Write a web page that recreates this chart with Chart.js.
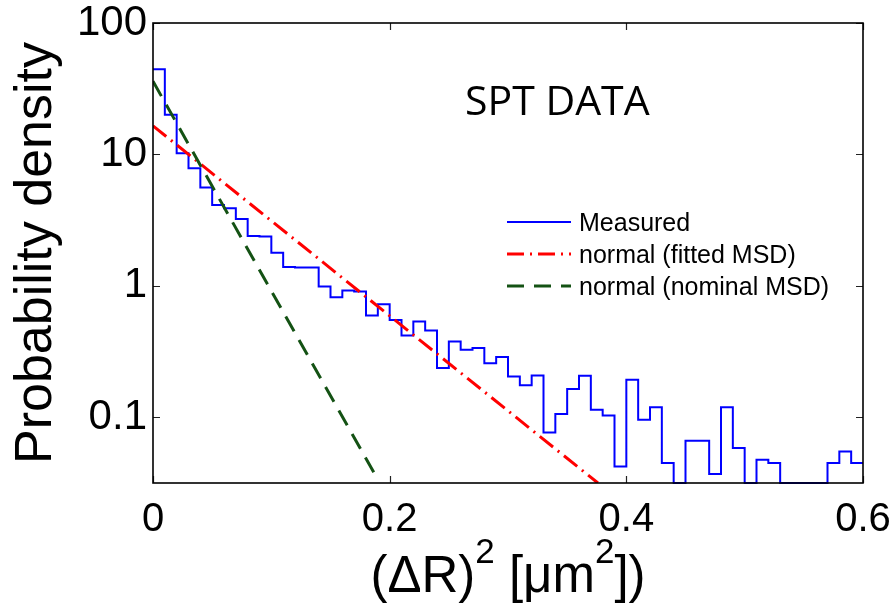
<!DOCTYPE html>
<html><head><meta charset="utf-8">
<script src="https://cdn.jsdelivr.net/npm/chart.js@4/dist/chart.umd.min.js"></script>
<style>html,body{margin:0;padding:0;background:#fff;}#wrap{width:895px;height:603px;}</style>
</head><body><div id="wrap"><canvas id="c" width="895" height="603"></canvas></div>
<script>
// ---- data ----
const binLeftEdges = [0.00,0.01,0.02,0.03,0.04,0.05,0.06,0.07,0.08,0.09,
  0.10,0.11,0.12,0.13,0.14,0.15,0.16,0.17,0.18,0.19,
  0.20,0.21,0.22,0.23,0.24,0.25,0.26,0.27,0.28,0.29,
  0.30,0.31,0.32,0.33,0.34,0.35,0.36,0.37,0.38,0.39,
  0.40,0.41,0.42,0.43,0.44,0.45,0.46,0.47,0.48,0.49,
  0.50,0.51,0.52,0.53,0.54,0.55,0.56,0.57,0.58,0.59];
const lastBinRightEdge = 0.6;
const measuredDensity = [44.5,20,10.2,7.85,5.6,4.13,3.9,3.23,2.40,2.37,
  1.79,1.39,1.38,1.38,0.99,0.82,0.92,0.905,0.594,0.726,
  0.551,0.419,0.535,0.457,0.237,0.377,0.326,0.336,0.258,0.287,
  0.204,0.175,0.208,0.0767,0.106,0.164,0.207,0.114,0.103,0.0423,
  0.193,0.0957,0.119,0.0449,0,0.0663,0.0663,0.037,0.119,0.0583,
  0,0.0475,0.0449,0,0,0,0,0.0449,0.055,0.0449];
const fittedX = [0, 0.376];
const fittedY = [16.5, 0.0316];
const nominalX = [0, 0.19];
const nominalY = [36, 0.0336];
const xTickValues = [0, 0.2, 0.4, 0.6];
const xTickLabels = ['0', '0.2', '0.4', '0.6'];
const yTickValues = [0.1, 1, 10, 100];
const yTickLabels = ['0.1', '1', '10', '100'];
const seriesNames = ['Measured', 'normal (fitted MSD)', 'normal (nominal MSD)'];
const annotationText = 'SPT DATA';
const yTitleText = 'Probability density';
const xTitleParts = [['(\u0394R)', false], ['2', true], [' [\u03bcm', false], ['2', true], ['])', false]];
const Y_MIN = Math.pow(10, -1.5), Y_MAX = 100, X_MIN = 0, X_MAX = 0.6;

// ---- styles ----
const FONT = '"Liberation Sans", Arial, Helvetica, sans-serif';
const colors = ['#0000ff', '#ff0000', '#145214'];
const widths = [2, 3, 3];
const dashes = [[], [17, 6, 2, 6], [17, 10]];

// value of bin i holds from its left edge to the next edge
const measuredPts = binLeftEdges.map((x, i) => ({x: x, y: measuredDensity[i] > 0 ? measuredDensity[i] : Y_MIN}));
measuredPts.push({x: lastBinRightEdge, y: measuredPts[measuredPts.length - 1].y});
const fittedPts = fittedX.map((x, i) => ({x: x, y: fittedY[i]}));
const nominalPts = nominalX.map((x, i) => ({x: x, y: nominalY[i]}));

const decor = {
  id: 'decor',
  afterDraw(chart) {
    const ctx = chart.ctx;
    const {left, right, top, bottom} = chart.chartArea;
    const xs = chart.scales.x, ys = chart.scales.y;
    ctx.save();
    ctx.strokeStyle = '#222'; ctx.lineWidth = 1.2; ctx.setLineDash([]);
    ctx.beginPath();
    yTickValues.forEach(v => {
      const y = Math.round(ys.getPixelForValue(v)) + 0.5;
      ctx.moveTo(left, y); ctx.lineTo(left + 7, y);
      ctx.moveTo(right, y); ctx.lineTo(right - 7, y);
    });
    xTickValues.forEach(v => {
      const x = Math.round(xs.getPixelForValue(v)) + 0.5;
      ctx.moveTo(x, bottom); ctx.lineTo(x, bottom - 7);
      ctx.moveTo(x, top); ctx.lineTo(x, top + 7);
    });
    ctx.stroke();
    ctx.strokeStyle = '#000'; ctx.lineWidth = 1.6;
    ctx.strokeRect(left, top, right - left, bottom - top);

    // legend
    const lx0 = 507, lx1 = 571, tx = 579;
    const ly = [222, 254, 286];
    ctx.font = '25px ' + FONT; ctx.fillStyle = '#000';
    ctx.textAlign = 'left'; ctx.textBaseline = 'alphabetic';
    seriesNames.forEach((name, i) => {
      ctx.strokeStyle = colors[i]; ctx.lineWidth = widths[i]; ctx.setLineDash(dashes[i]);
      ctx.beginPath(); ctx.moveTo(lx0, ly[i]); ctx.lineTo(lx1, ly[i]); ctx.stroke();
      ctx.fillText(name, tx, ly[i] + 9);
    });
    ctx.setLineDash([]);

    // annotation
    ctx.font = '41px "Open Sans", "Noto Sans", sans-serif';
    ctx.fillText(annotationText, 465, 115);

    // x-axis title with superscripts
    const mainSize = 51, supSize = 35, rise = 29;
    let total = 0;
    xTitleParts.forEach(([t, sup]) => {
      ctx.font = (sup ? supSize : mainSize) + 'px ' + FONT;
      total += ctx.measureText(t).width;
    });
    let x = (left + right) / 2 - total / 2;
    const base = 592;
    xTitleParts.forEach(([t, sup]) => {
      ctx.font = (sup ? supSize : mainSize) + 'px ' + FONT;
      ctx.fillText(t, x, sup ? base - rise : base);
      x += ctx.measureText(t).width;
    });
    ctx.restore();
  }
};

new Chart(document.getElementById('c'), {
  type: 'line',
  data: {
    datasets: [
      {label: seriesNames[0], data: measuredPts, borderColor: colors[0], borderWidth: widths[0],
       stepped: 'before', pointRadius: 0, fill: false, order: 3, clip: 1},
      {label: seriesNames[1], data: fittedPts, borderColor: colors[1], borderWidth: widths[1],
       borderDash: dashes[1], pointRadius: 0, fill: false, order: 2, clip: 0},
      {label: seriesNames[2], data: nominalPts, borderColor: colors[2], borderWidth: widths[2],
       borderDash: dashes[2], pointRadius: 0, fill: false, order: 1, clip: 0}
    ]
  },
  options: {
    responsive: false, animation: false, devicePixelRatio: 1,
    layout: {padding: {left: 0, right: 32, top: 23, bottom: 0}},
    plugins: {legend: {display: false}, tooltip: {enabled: false}},
    elements: {line: {tension: 0}},
    scales: {
      x: {
        type: 'linear', min: X_MIN, max: X_MAX,
        grid: {display: false, drawTicks: false}, border: {display: false},
        ticks: {color: '#000', font: {size: 40, family: FONT, lineHeight: 1}, padding: 17,
                maxRotation: 0, autoSkip: false,
                callback: v => { const i = xTickValues.findIndex(t => Math.abs(t - v) < 1e-9); return i >= 0 ? xTickLabels[i] : ''; }},
        afterBuildTicks: s => { s.ticks = xTickValues.map(v => ({value: v})); },
        afterFit: s => { s.height = 120; s.paddingLeft = 0; s.paddingRight = 0; }
      },
      y: {
        type: 'logarithmic', min: Y_MIN, max: Y_MAX,
        grid: {display: false, drawTicks: false}, border: {display: false},
        ticks: {color: '#000', font: {size: 42, family: FONT, lineHeight: 1}, padding: 6, autoSkip: false,
                callback: v => { const i = yTickValues.findIndex(t => Math.abs(t - v) / t < 1e-6); return i >= 0 ? yTickLabels[i] : ''; }},
        title: {display: true, text: yTitleText, color: '#000', font: {size: 52, family: FONT}, padding: {top: 5, bottom: 0}},
        afterBuildTicks: s => { s.ticks = yTickValues.map(v => ({value: v})); },
        afterFit: s => { s.width = 153; s.paddingTop = 0; s.paddingBottom = 0; }
      }
    }
  },
  plugins: [decor]
});
</script></body></html>
